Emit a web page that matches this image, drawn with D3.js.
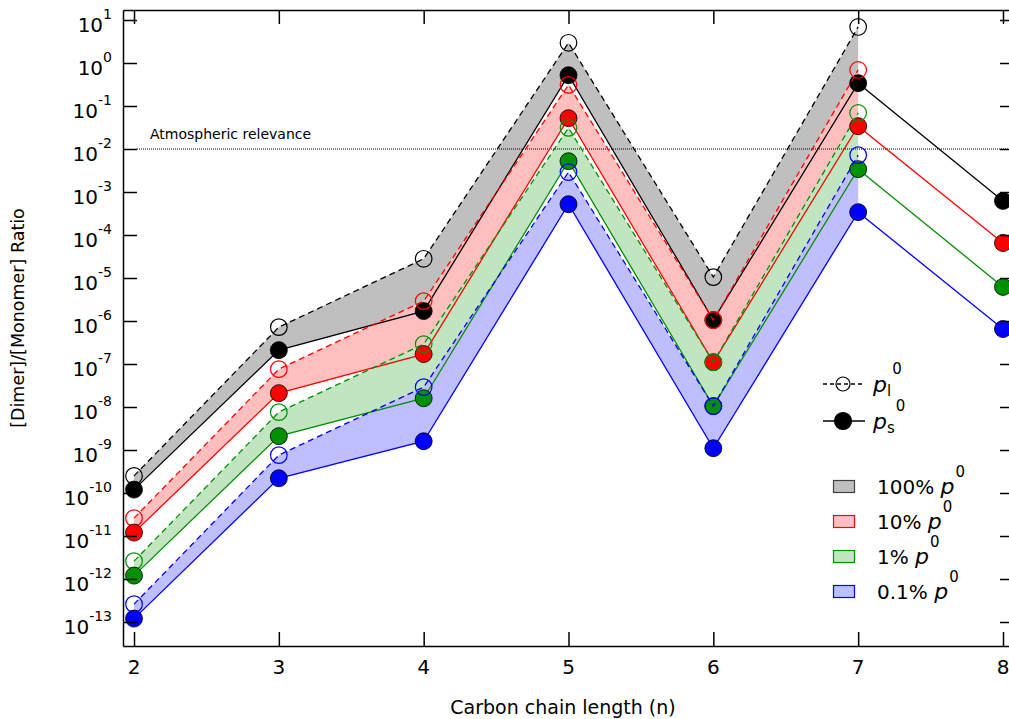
<!DOCTYPE html>
<html>
<head>
<meta charset="utf-8">
<title>Dimer / Monomer ratio</title>
<style>
  body { margin: 0; background: #fff; }
  text { font-family: "DejaVu Sans", sans-serif; fill: #000; }
</style>
</head>
<body>
<script src="https://d3js.org/d3.v7.min.js"></script>
<div id="chart"></div>
<script>
// carbon chain length n
const nValues = [2, 3, 4, 5, 6, 7, 8];
const nTicks = [2, 3, 4, 5, 6, 7, 8];
const yExponents = [1, 0, -1, -2, -3, -4, -5, -6, -7, -8, -9, -10, -11, -12, -13];

// p_l^0 (open circles, dashed) : n = 2..7
const pl100 = [2.5e-10, 7.2e-7, 2.8e-5, 2.95, 1.05e-5, 6.9];
const pl10 = [2.6e-11, 7.6e-8, 2.9e-6, 0.31, 1.05e-6, 0.69];
const pl1 = [2.6e-12, 7.6e-9, 2.9e-7, 0.031, 1.1e-7, 0.069];
const pl01 = [2.6e-13, 7.6e-10, 2.9e-8, 2.9e-3, 1.05e-8, 7.2e-3];

// p_s^0 (filled circles, solid) : n = 2..8
const ps100 = [1.2e-10, 2.1e-7, 1.7e-6, 0.52, 1.05e-6, 0.34, 6.2e-4];
const ps10 = [1.2e-11, 2.1e-8, 1.7e-7, 0.052, 1.1e-7, 0.034, 6.5e-5];
const ps1 = [1.2e-12, 2.1e-9, 1.6e-8, 5.2e-3, 1.05e-8, 3.4e-3, 6.2e-6];
const ps01 = [1.2e-13, 2.2e-10, 1.6e-9, 5.2e-4, 1.1e-9, 3.4e-4, 6.5e-7];

const seriesNames = ['100%', '10%', '1%', '0.1%'];
const lineColors = ['#000000', '#ff0000', '#009000', '#0000ff'];
const fillColors = ['#bfbfbf', '#ffbfbf', '#c0e5c0', '#bfbfff'];
const swatchStroke = ['#404040', '#ff0000', '#009000', '#0000ff'];
const atmosphericLevel = 1e-2;

const plAll = [pl100, pl10, pl1, pl01];
const psAll = [ps100, ps10, ps1, ps01];

const W = 1009, H = 719;
const plotL = 123, plotR = 1014, plotT = 10, plotB = 646;

const svg = d3.select('#chart').append('svg')
  .attr('width', W).attr('height', H);

const x = d3.scaleLinear().domain([1.924, 8.076]).range([plotL, plotR]);
const y = d3.scaleLog().domain([Math.pow(10, -13.558), Math.pow(10, 1.2326)]).range([plotB, plotT]);
const yTickVals = yExponents.map(e => Math.pow(10, e));

// shaded bands between p_l and p_s
const area = d3.area()
  .x((d, i) => x(nValues[i]))
  .y0(d => y(d[1]))
  .y1(d => y(d[0]));

plAll.forEach((pl, k) => {
  const band = pl.map((v, i) => [v, psAll[k][i]]);
  svg.append('path')
    .datum(band)
    .attr('d', area)
    .attr('fill', fillColors[k])
    .attr('stroke', 'none');
});

// atmospheric relevance line
svg.append('line')
  .attr('x1', plotL + 14).attr('x2', plotR)
  .attr('y1', y(atmosphericLevel)).attr('y2', y(atmosphericLevel))
  .attr('stroke', '#000').attr('stroke-width', 1)
  .attr('stroke-dasharray', '1,1');
svg.append('text')
  .attr('x', 150).attr('y', y(atmosphericLevel) - 10)
  .style('font-size', '14px')
  .text('Atmospheric relevance');

// lines + markers
const line = d3.line().x((d, i) => x(nValues[i])).y(d => y(d));

plAll.forEach((pl, k) => {
  const ps = psAll[k];
  svg.append('path').datum(pl).attr('d', line)
    .attr('fill', 'none').attr('stroke', lineColors[k])
    .attr('stroke-width', 1.3).attr('stroke-dasharray', '6,4');
  svg.append('path').datum(ps).attr('d', line)
    .attr('fill', 'none').attr('stroke', lineColors[k])
    .attr('stroke-width', 1.3);
  svg.append('g').selectAll('circle').data(pl).enter().append('circle')
    .attr('cx', (d, i) => x(nValues[i])).attr('cy', d => y(d))
    .attr('r', 8.3).attr('fill', 'none')
    .attr('stroke', lineColors[k]).attr('stroke-width', 1.2);
  svg.append('g').selectAll('circle').data(ps).enter().append('circle')
    .attr('cx', (d, i) => x(nValues[i])).attr('cy', d => y(d))
    .attr('r', 8.5).attr('fill', lineColors[k])
    .attr('stroke', '#000').attr('stroke-width', 0.8);
});

// axes (ticks pointing inward)
function styleAxis(g) {
  g.selectAll('path').attr('stroke', '#000').attr('stroke-width', 1.5);
  g.selectAll('line').attr('stroke', '#000').attr('stroke-width', 1.5);
}
svg.append('g').attr('transform', 'translate(' + plotL + ',0)')
  .call(d3.axisLeft(y).tickValues(yTickVals).tickSizeInner(-14).tickSizeOuter(0).tickFormat(''))
  .call(styleAxis);
svg.append('g').attr('transform', 'translate(' + plotR + ',0)')
  .call(d3.axisRight(y).tickValues(yTickVals).tickSizeInner(-14).tickSizeOuter(0).tickFormat(''))
  .call(styleAxis);
svg.append('g').attr('transform', 'translate(0,' + plotB + ')')
  .call(d3.axisBottom(x).tickValues(nTicks).tickSizeInner(-14).tickSizeOuter(0).tickFormat(''))
  .call(styleAxis);
svg.append('g').attr('transform', 'translate(0,' + plotT + ')')
  .call(d3.axisTop(x).tickValues(nTicks).tickSizeInner(-14).tickSizeOuter(0).tickFormat(''))
  .call(styleAxis);

// y tick labels 10^e
const yl = svg.append('g').selectAll('text').data(yExponents).enter().append('text')
  .attr('x', 112).attr('y', e => y(Math.pow(10, e)) + 11.5)
  .attr('text-anchor', 'end')
  .style('font-size', '20px');
yl.append('tspan').text('10');
yl.append('tspan').attr('dy', -13).style('font-size', '14px').text(e => e);

// x tick labels
svg.append('g').selectAll('text').data(nTicks).enter().append('text')
  .attr('x', d => x(d)).attr('y', 674)
  .attr('text-anchor', 'middle')
  .style('font-size', '20px')
  .text(d => d);

// axis titles
svg.append('text')
  .attr('x', (plotL + x(8)) / 2 + 0).attr('y', 714)
  .attr('text-anchor', 'middle')
  .style('font-size', '19px')
  .text('Carbon chain length (n)');
svg.append('text')
  .attr('transform', 'translate(24,318) rotate(-90)')
  .attr('text-anchor', 'middle')
  .style('font-size', '17.5px')
  .text('[Dimer]/[Monomer] Ratio');

// legend: marker styles
const leg = svg.append('g');
const markerRows = [
  { y: 384, dash: '4,3', open: true, sub: 'l' },
  { y: 421, dash: null, open: false, sub: 's' }
];
markerRows.forEach(r => {
  leg.append('line').attr('x1', 823).attr('x2', 865).attr('y1', r.y).attr('y2', r.y)
    .attr('stroke', '#000').attr('stroke-width', 1.3)
    .attr('stroke-dasharray', r.dash);
  leg.append('circle').attr('cx', 843).attr('cy', r.y).attr('r', r.open ? 7 : 8.5)
    .attr('fill', r.open ? 'none' : '#000').attr('stroke', '#000').attr('stroke-width', 1.2);
  const t = leg.append('text').attr('x', 873).attr('y', r.y + 8).style('font-size', '22px');
  t.append('tspan').style('font-style', 'italic').text('p');
  t.append('tspan').attr('dy', 4).style('font-size', '15px').text(r.sub);
  t.append('tspan').attr('dy', -22).attr('dx', 1).style('font-size', '15px').text('0');
});

// legend: bands
const rowY = [487, 522, 557, 592];
seriesNames.forEach((name, k) => {
  leg.append('rect').attr('x', 833.5).attr('y', rowY[k] - 6.5).attr('width', 21).attr('height', 12)
    .attr('fill', fillColors[k]).attr('stroke', swatchStroke[k]).attr('stroke-width', 1.2);
  const t = leg.append('text').attr('x', 877).attr('y', rowY[k] + 7).style('font-size', '20px');
  t.append('tspan').text(name + ' ');
  t.append('tspan').style('font-style', 'italic').style('font-size', '22px').text('p');
  t.append('tspan').attr('dy', -17).attr('dx', 1).style('font-size', '15px').text('0');
});
</script>
</body>
</html>
